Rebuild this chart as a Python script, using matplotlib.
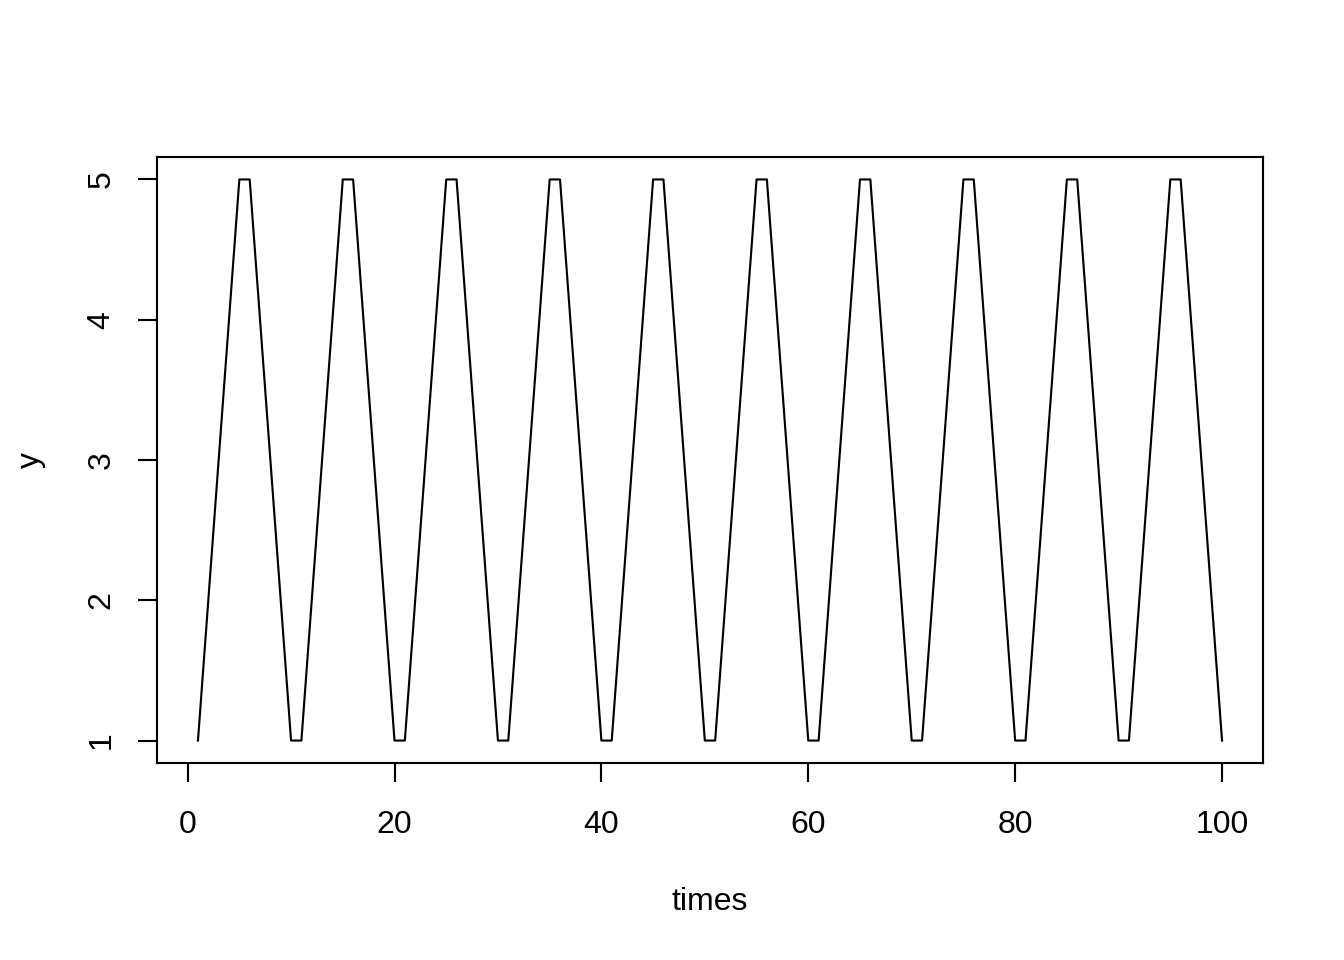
import matplotlib
matplotlib.use("Agg")
import matplotlib.pyplot as plt

# Série: tempos 1..100, padrão triangular entre 1 e 5
times = list(range(1, 101))
y = [
    1, 2, 3, 4, 5, 5, 4, 3, 2, 1,
    1, 2, 3, 4, 5, 5, 4, 3, 2, 1,
    1, 2, 3, 4, 5, 5, 4, 3, 2, 1,
    1, 2, 3, 4, 5, 5, 4, 3, 2, 1,
    1, 2, 3, 4, 5, 5, 4, 3, 2, 1,
    1, 2, 3, 4, 5, 5, 4, 3, 2, 1,
    1, 2, 3, 4, 5, 5, 4, 3, 2, 1,
    1, 2, 3, 4, 5, 5, 4, 3, 2, 1,
    1, 2, 3, 4, 5, 5, 4, 3, 2, 1,
    1, 2, 3, 4, 5, 5, 4, 3, 2, 1,
]
x_ticks = [0, 20, 40, 60, 80, 100]
y_ticks = [1, 2, 3, 4, 5]

plt.rcParams.update({
    "font.family": ["Liberation Sans", "DejaVu Sans"],
    "font.size": 12,
})

fig = plt.figure(figsize=(7, 5), dpi=192)
ax = fig.add_axes([157 / 1344, 1 - 763 / 960, (1263 - 157) / 1344, (763 - 157) / 960])

ax.plot(times, y, color="black", linewidth=0.8)

# limites no estilo do R (expansão de 4%)
xr = max(times) - min(times)
yr = max(y) - min(y)
ax.set_xlim(min(times) - 0.04 * xr, max(times) + 0.04 * xr)
ax.set_ylim(min(y) - 0.04 * yr, max(y) + 0.04 * yr)

ax.set_xticks(x_ticks)
ax.set_yticks(y_ticks)
ax.set_yticklabels([str(v) for v in y_ticks], rotation=90, va="center")
ax.tick_params(direction="out", length=7.2, width=0.8, colors="black")
ax.tick_params(axis="x", pad=10.3)
ax.tick_params(axis="y", pad=8)

for spine in ax.spines.values():
    spine.set_linewidth(0.8)

ax.set_xlabel("times", labelpad=17.6)
ax.set_ylabel("y", labelpad=15.3)

fig.savefig("out.png", dpi=192)
